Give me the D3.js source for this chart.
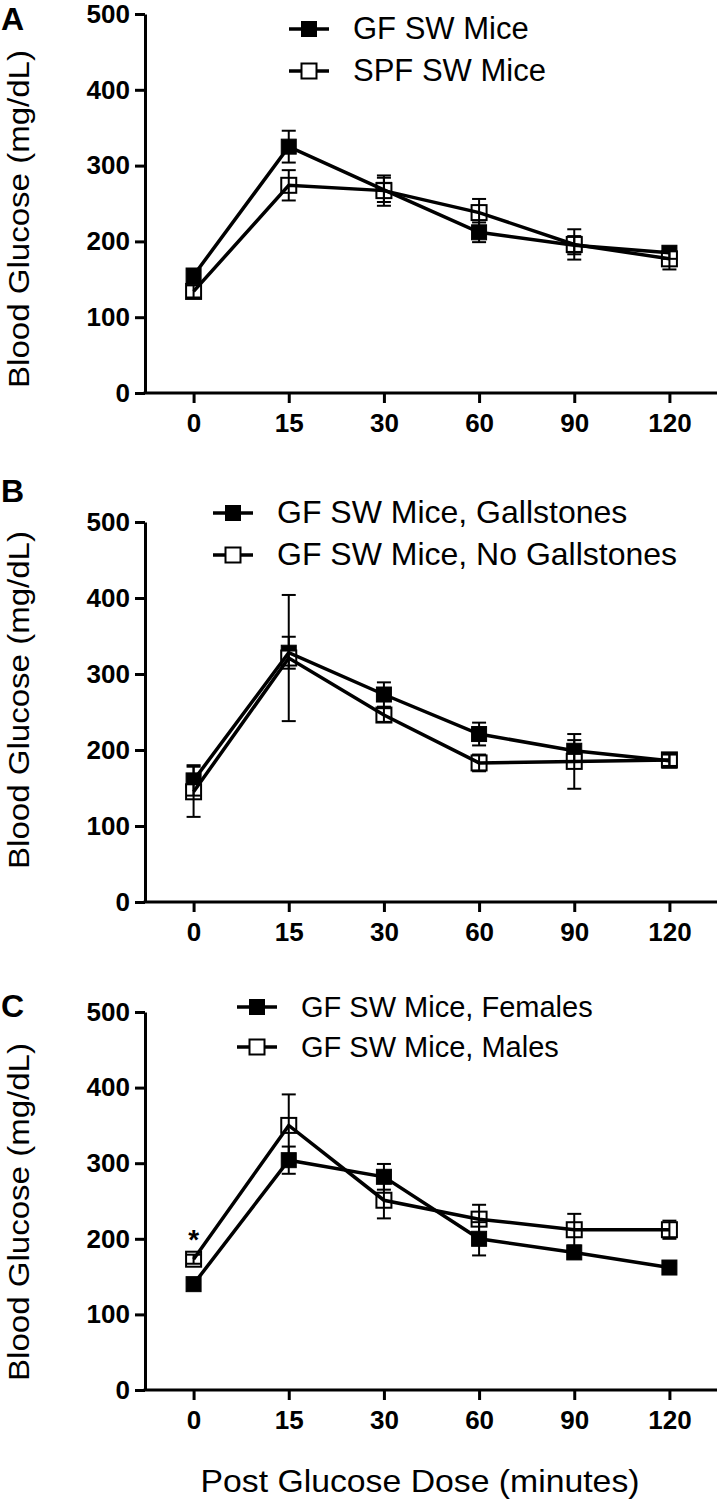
<!DOCTYPE html>
<html>
<head>
<meta charset="utf-8">
<script src="https://cdn.jsdelivr.net/npm/d3@7"></script>
<style>
  html, body { margin: 0; padding: 0; background: #fff; }
  svg { display: block; }
</style>
</head>
<body>
<svg id="chart" width="720" height="1502"></svg>
<script>
// ---------- data ----------
const timePoints = ["0", "15", "30", "60", "90", "120"];
const yTicks = [0, 100, 200, 300, 400, 500];

// Panel A
const gfSW = [155, 325, 268, 212, 195, 185];
const gfSWErr = [8, 21, 16, 13, 12, 8];
const spfSW = [134, 274, 267, 238, 196, 177];
const spfSWErr = [8, 20, 20, 18, 20, 14];

// Panel B
const gallstones = [160, 328, 273, 221, 199, 186];
const gallstonesErr = [20, 21, 16, 15, 14, 8];
const noGallstones = [145, 321, 246, 183, 185, 187];
const noGallstonesErr = [33, 83, 9, 11, 36, 8];

// Panel C
const females = [140, 304, 282, 200, 182, 162];
const femalesErr = [6, 18, 17, 22, 8, 5];
const males = [173, 350, 251, 226, 212, 212];
const malesErr = [6, 41, 24, 19, 21, 12];

const legendA = ["GF SW Mice", "SPF SW Mice"];
const legendB = ["GF SW Mice, Gallstones", "GF SW Mice, No Gallstones"];
const legendC = ["GF SW Mice, Females", "GF SW Mice, Males"];
const panelLetters = ["A", "B", "C"];
const yTitle = "Blood Glucose (mg/dL)";
const xTitle = "Post Glucose Dose (minutes)";
const starLabel = "*";

// ---------- layout ----------
const FONT = "'Liberation Sans', Arial, Helvetica, sans-serif";
const panels = [
  { letter: panelLetters[0], top: 14, bottom: 393, titleCy: 219, letterY: 30,
    legend: legendA, legX: 289, legY: [29, 71], legFont: 31,
    series: [ {v: gfSW, e: gfSWErr, filled: true}, {v: spfSW, e: spfSWErr, filled: false} ] },
  { letter: panelLetters[1], top: 522, bottom: 902, titleCy: 700, letterY: 502,
    legend: legendB, legX: 213, legY: [513, 555], legFont: 32,
    series: [ {v: gallstones, e: gallstonesErr, filled: true}, {v: noGallstones, e: noGallstonesErr, filled: false} ] },
  { letter: panelLetters[2], top: 1012, bottom: 1390, titleCy: 1212, letterY: 1017,
    legend: legendC, legX: 237, legY: [1007, 1047], legFont: 29,
    series: [ {v: females, e: femalesErr, filled: true}, {v: males, e: malesErr, filled: false} ], star: true }
];

const svg = d3.select("#chart");
svg.append("rect").attr("width", 720).attr("height", 1502).attr("fill", "#fff");

const x = d3.scalePoint().domain(timePoints).range([146, 717]).padding(0.5);
const axisX0 = 145;
const MS = 15; // marker size

panels.forEach(p => {
  const g = svg.append("g");
  const y = d3.scaleLinear().domain([0, 500]).range([p.bottom, p.top]);

  // panel letter
  g.append("text").attr("x", 1).attr("y", p.letterY)
    .attr("font-family", FONT).attr("font-weight", "bold").attr("font-size", 32)
    .text(p.letter);

  // y axis
  const ya = g.append("g").attr("transform", `translate(${axisX0},0)`)
    .call(d3.axisLeft(y).tickValues(yTicks).tickSize(10).tickSizeOuter(0).tickPadding(5));
  ya.select(".domain").attr("stroke-width", 3).attr("stroke", "#000");
  ya.selectAll(".tick line").attr("stroke-width", 3).attr("stroke", "#000");
  ya.selectAll(".tick text").attr("font-family", FONT).attr("font-weight", "bold")
    .attr("font-size", 26).attr("fill", "#000");

  // x axis
  const xa = g.append("g").attr("transform", `translate(0,${p.bottom})`)
    .call(d3.axisBottom(x).tickSize(10).tickSizeOuter(0).tickPadding(11));
  xa.select(".domain").attr("stroke-width", 3).attr("stroke", "#000")
    .attr("d", `M${axisX0 - 1.5},0H717`);
  xa.selectAll(".tick line").attr("stroke-width", 3).attr("stroke", "#000");
  xa.selectAll(".tick text").attr("font-family", FONT).attr("font-weight", "bold")
    .attr("font-size", 26).attr("fill", "#000");

  // y title
  g.append("text")
    .attr("transform", `translate(29,${p.titleCy}) rotate(-90)`)
    .attr("text-anchor", "middle")
    .attr("font-family", FONT).attr("font-size", 30)
    .attr("textLength", 338).attr("lengthAdjust", "spacingAndGlyphs")
    .text(yTitle);

  const markersG = g.append("g");
  const overG = g.append("g");

  // series
  p.series.forEach(s => {
    const pts = timePoints.map((t, i) => ({t, v: s.v[i], e: s.e[i]}));
    markersG.selectAll(null).data(pts).enter().append("rect")
      .attr("x", d => x(d.t) - MS / 2).attr("y", d => y(d.v) - MS / 2)
      .attr("width", MS).attr("height", MS)
      .attr("fill", s.filled ? "#000" : "#fff")
      .attr("stroke", "#000").attr("stroke-width", s.filled ? 1 : 2);
    const line = d3.line().x(d => x(d.t)).y(d => y(d.v));
    overG.append("path").datum(pts).attr("d", line)
      .attr("fill", "none").attr("stroke", "#000").attr("stroke-width", 3.5)
      .attr("stroke-linejoin", "miter");
    const eb = overG.append("g").attr("stroke", "#000").attr("stroke-width", 2);
    pts.forEach(d => {
      const cx = x(d.t), y1 = y(d.v + d.e), y2 = y(d.v - d.e);
      eb.append("line").attr("x1", cx).attr("x2", cx).attr("y1", y1).attr("y2", y2);
      eb.append("line").attr("x1", cx - 7).attr("x2", cx + 7).attr("y1", y1).attr("y2", y1);
      eb.append("line").attr("x1", cx - 7).attr("x2", cx + 7).attr("y1", y2).attr("y2", y2);
    });
  });

  if (p.star) {
    g.append("text").attr("x", x(timePoints[0])).attr("y", y(males[0]) - 10)
      .attr("text-anchor", "middle").attr("font-family", FONT)
      .attr("font-weight", "bold").attr("font-size", 28).text(starLabel);
  }

  // legend
  p.legend.forEach((lab, i) => {
    const ly = p.legY[i];
    g.append("line").attr("x1", p.legX).attr("x2", p.legX + 40)
      .attr("y1", ly).attr("y2", ly).attr("stroke", "#000").attr("stroke-width", 3.5);
    g.append("rect").attr("x", p.legX + 20 - MS / 2).attr("y", ly - MS / 2)
      .attr("width", MS).attr("height", MS)
      .attr("fill", i === 0 ? "#000" : "#fff").attr("stroke", "#000")
      .attr("stroke-width", i === 0 ? 1 : 2);
    g.append("text").attr("x", p.legX + 64).attr("y", ly + 10)
      .attr("font-family", FONT).attr("font-size", p.legFont).text(lab);
  });
});

// x title
svg.append("text").attr("x", 420).attr("y", 1492)
  .attr("text-anchor", "middle").attr("font-family", FONT).attr("font-size", 32)
  .attr("textLength", 439).attr("lengthAdjust", "spacingAndGlyphs")
  .text(xTitle);
</script>
</body>
</html>
